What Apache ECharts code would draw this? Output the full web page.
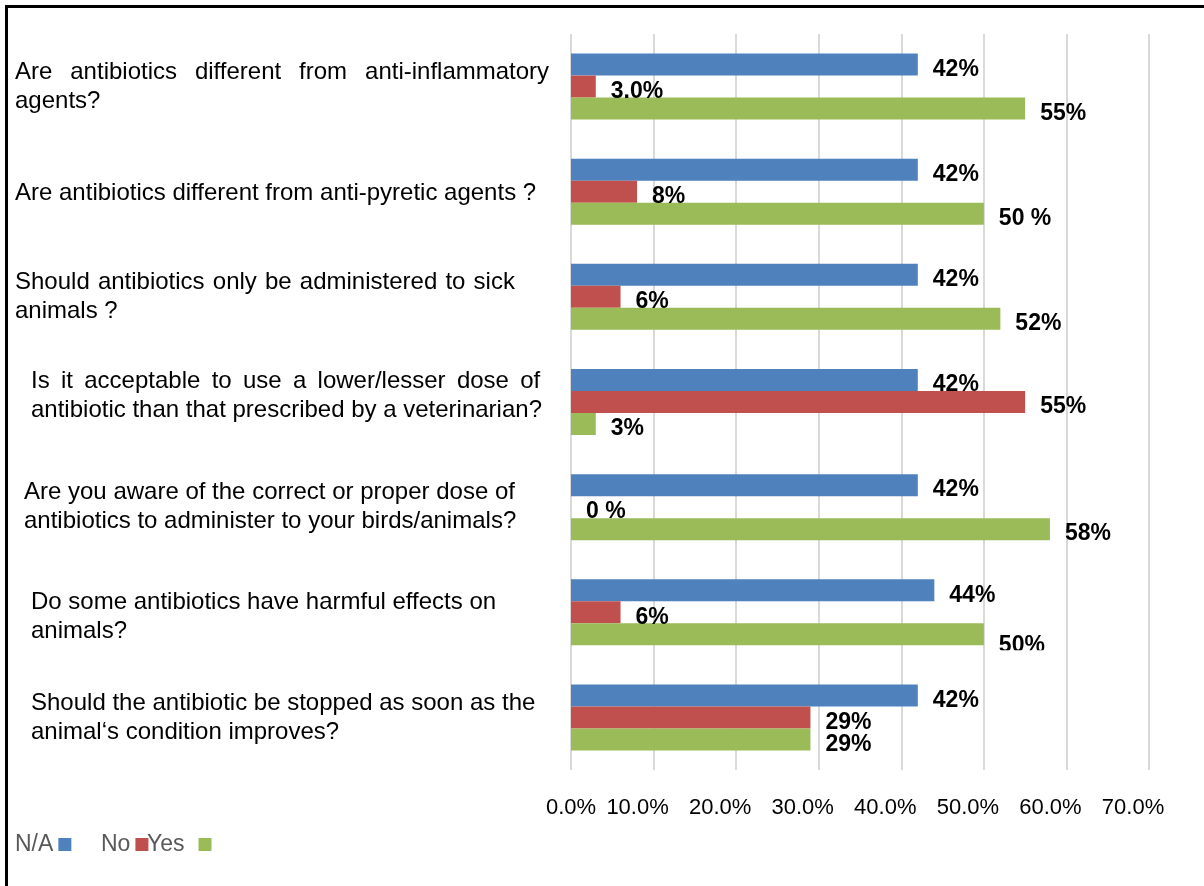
<!DOCTYPE html>
<html>
<head>
<meta charset="utf-8">
<script src="https://cdn.jsdelivr.net/npm/echarts@6/dist/echarts.min.js"></script>
<style>
  html, body { margin: 0; padding: 0; background: #fff; }
  #chart { position: absolute; left: 0; top: 0; width: 1204px; height: 886px; }
  #frame { position: absolute; left: 5px; top: 5px; width: 1300px; height: 1000px;
           border-left: 3px solid #000; border-top: 3px solid #000; pointer-events: none; }
</style>
</head>
<body>
<div id="chart"></div>
<div id="frame"></div>
<script>
// Survey questions (top to bottom)
const categories = [
  'Are antibiotics different from anti-inflammatory\nagents?',
  'Are antibiotics different from anti-pyretic agents ?',
  'Should antibiotics only be administered to sick\nanimals ?',
  'Is it acceptable to use a lower/lesser dose of\nantibiotic than that prescribed by a veterinarian?',
  'Are you aware of the correct or proper dose of\nantibiotics to administer to your birds/animals?',
  'Do some antibiotics have harmful effects on\nanimals?',
  'Should the antibiotic be stopped as soon as the\nanimal\u2018s condition improves?'
];

// Answer shares, percent
const naValues  = [42, 42, 42, 42, 42, 44, 42];
const noValues  = [3, 8, 6, 55, 0, 6, 29];
const yesValues = [55, 50, 52, 3, 58, 50, 29];

// Value labels as printed next to each bar
const naLabels  = ['42%', '42%', '42%', '42%', '42%', '44%', '42%'];
const noLabels  = ['3.0%', '8%', '6%', '55%', '0 %', '6%', '29%'];
const yesLabels = ['55%', '50 %', '52%', '3%', '58%', '50%', '29%'];

const seriesNames = ['N/A', 'No', 'Yes'];

const FONT = "'Liberation Sans', Arial, Helvetica, sans-serif";
const COLORS = ['#4F81BD', '#C0504D', '#9BBB59'];

// Question text layout: left indent, extra word spacing per line (justified lines),
// and a small vertical nudge of the whole block
const questionLayout = [
  { indent: 0,  justify: [45, 0], shift: 0 },
  { indent: 0,  justify: [0],     shift: 2 },
  { indent: 0,  justify: [9, 0],  shift: 0 },
  { indent: 16, justify: [37, 0], shift: -6 },
  { indent: 9,  justify: [0, 0],  shift: 0 },
  { indent: 16, justify: [0, 0],  shift: 5 },
  { indent: 16, justify: [0, 0],  shift: 0 }
];

const richQ = {};
function qStyle(l, r) {
  const key = 'q' + Math.round(l * 10) + '_' + Math.round(r * 10);
  if (!richQ[key]) {
    richQ[key] = { fontSize: 24, lineHeight: 29, color: '#000', fontFamily: FONT,
                   padding: [0, r, 0, l] };
  }
  return key;
}
function spacer(h) {
  const key = 'sp' + h;
  if (!richQ[key]) richQ[key] = { fontSize: 2, lineHeight: h, color: 'transparent' };
  return '{' + key + '| }';
}
const questionText = categories.map((c, i) => {
  const lay = questionLayout[i];
  let txt = c.split('\n').map((line, li) => {
    const extra = lay.justify[li] || 0;
    if (!extra) return '{' + qStyle(lay.indent, 0) + '|' + line + '}';
    const words = line.split(' ');
    const gap = extra / (words.length - 1);
    return words.map((w, wi) => {
      const last = wi === words.length - 1;
      const key = qStyle(wi === 0 ? lay.indent : 0, last ? 0 : gap);
      return '{' + key + '|' + w + (last ? '' : ' ') + '}';
    }).join('');
  }).join('\n');
  if (lay.shift > 0) txt = spacer(lay.shift * 2) + '\n' + txt;
  if (lay.shift < 0) txt = txt + '\n' + spacer(-lay.shift * 2);
  return txt;
});

const valueLabels = [naLabels, noLabels, yesLabels];
const values = [naValues, noValues, yesValues];

const chart = echarts.init(document.getElementById('chart'), null, { renderer: 'canvas' });

const option = {
  animation: false,
  backgroundColor: '#fff',
  textStyle: { fontFamily: FONT },
  grid: { left: 571, right: 55, top: 34, bottom: 116, containLabel: false },
  legend: [
    { data: ['N/A'], left: 15 },
    { data: ['No'], left: 101 },
    { data: ['Yes'], left: 147, formatter: '{y|{name}}' }
  ].map(l => Object.assign({
    top: 833, padding: 0, orient: 'horizontal', align: 'right', icon: 'rect',
    itemWidth: 13, itemHeight: 13, selectedMode: false,
    textStyle: { fontSize: 23, color: '#595959', fontFamily: FONT,
                 rich: { y: { fontSize: 23, color: '#595959', fontFamily: FONT, padding: [0, 9, 0, 0] } } }
  }, l)),
  xAxis: {
    type: 'value', min: 0, max: 70, interval: 10,
    axisLine: { show: false }, axisTick: { show: false },
    splitLine: { show: true, lineStyle: { color: '#D9D9D9', width: 2 } },
    axisLabel: {
      margin: 27,
      formatter: v => (v === 0 ? '{z|' : '{s|') + v.toFixed(1) + '%}',
      rich: {
        z: { fontSize: 22, color: '#000', fontFamily: FONT },
        s: { fontSize: 22, color: '#000', fontFamily: FONT, padding: [0, 32, 0, 0] }
      }
    }
  },
  yAxis: {
    type: 'category', inverse: true, data: categories,
    axisLine: { show: false }, axisTick: { show: false },
    axisLabel: {
      interval: 0, align: 'left', margin: 556,
      formatter: v => questionText[categories.indexOf(v)],
      rich: richQ
    }
  },
  series: seriesNames.map((name, si) => ({
    name, type: 'bar',
    data: values[si].map((v, i) => {
      // the "Yes" label of the sixth question sits a little lower
      if (si === 2 && i === 5) return { value: v, label: { offset: [0, 11] } };
      return v;
    }),
    barWidth: 22, barGap: '0%',
    itemStyle: { color: COLORS[si] },
    label: {
      show: true, position: 'right', distance: 15, offset: [0, 5],
      formatter: p => valueLabels[si][p.dataIndex],
      fontSize: 23, fontWeight: 'bold', color: '#000', fontFamily: FONT
    }
  }))
};

chart.setOption(option);

// The lower edge of the "Yes" label for the sixth question is cut off
const cut = chart.convertToPixel({ xAxisIndex: 0, yAxisIndex: 0 }, [yesValues[5], 5]);
chart.setOption({
  graphic: [{
    type: 'rect', z: 100,
    shape: { x: cut[0] + 12, y: cut[1] + 38, width: 62, height: 14 },
    style: { fill: '#fff' }
  }]
});
</script>
</body>
</html>
